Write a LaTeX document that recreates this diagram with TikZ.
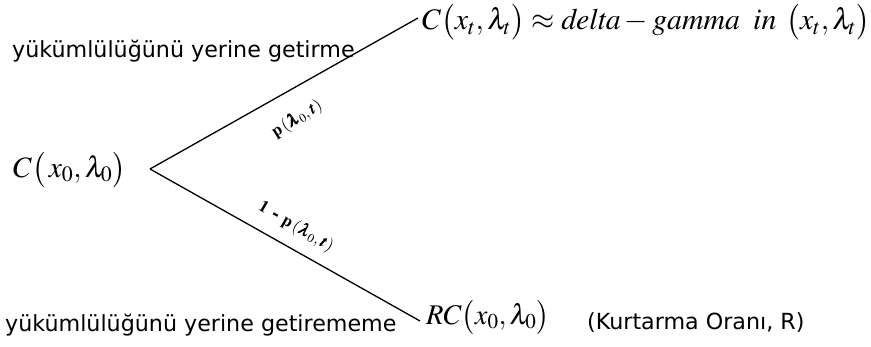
\documentclass[tikz,border=0pt]{standalone}
\usepackage{mathptmx}
\usepackage{amsmath}
\usepackage{bm}
\usepackage[no-math]{fontspec}
\setmainfont{DejaVu Sans}
\begin{document}
\begin{tikzpicture}[x=1pt,y=-1pt,
  lbl/.style={inner sep=0pt,font=\fontsize{22.2}{25}\selectfont},
  topmath/.style={inner sep=0pt,font=\fontsize{29.8}{34}\selectfont},
  bigmath/.style={inner sep=0pt,font=\fontsize{29.5}{34}\selectfont},
  rcmath/.style={inner sep=0pt,font=\fontsize{28.5}{32}\selectfont},
  prob/.style={inner sep=0pt,font=\fontsize{17}{19}\selectfont\bfseries},
  branch/.style={line width=1.3pt}]
\useasboundingbox (0,0) rectangle (871,347);
\coordinate (root) at (150,169);
\coordinate (up) at (418,18);
\coordinate (down) at (420,321);
\draw[branch] (root) -- (up);
\draw[branch] (root) -- (down);
\node[topmath,anchor=west] (top) at (422,22.5) {$C\bigl(x_t,\lambda_t\bigr)\approx \mathit{delta}-\mathit{gamma}\;\;\mathit{in}\;\,\bigl(x_t,\lambda_t\bigr)$};
\node[bigmath,anchor=west] (c0) at (13,170) {$C\bigl(\,x_0,\lambda_0\bigr)$};
\node[rcmath,anchor=west] (rc) at (426,317) {$RC\bigl(x_0,\lambda_0\bigr)$};
\node[lbl,anchor=base west] (l1) at (12,58) {yükümlülüğünü yerine getirme};
\node[lbl,anchor=base west] (l2) at (5,332) {yükümlülüğünü yerine getirememe};
\node[lbl,anchor=base west] (kr) at (587,330) {(Kurtarma Oranı, R)};
\node[prob,rotate=32] (p1) at (297,119) {$\mathbf{p}\,(\bm{\lambda}_0,\bm{t})$};
\node[prob,rotate=-30] (p2) at (296,227) {$\mathbf{1}\ \textbf{-}\ \mathbf{p}\,(\bm{\lambda}_0,\bm{t})$};
\end{tikzpicture}
\end{document}
